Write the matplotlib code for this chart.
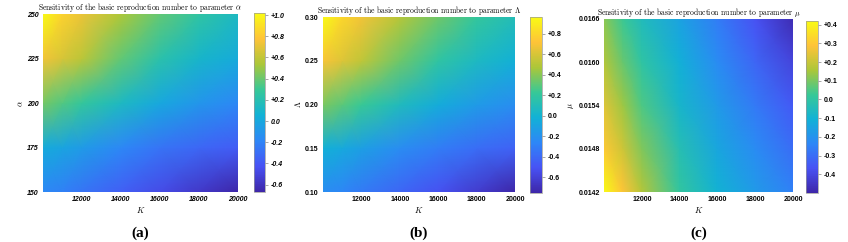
import numpy as np
import matplotlib
matplotlib.use("Agg")
import matplotlib.pyplot as plt
from matplotlib.colors import LinearSegmentedColormap
from matplotlib.ticker import FuncFormatter

plt.rcParams["mathtext.fontset"] = "cm"

# parula-like colormap (MATLAB default)
parula = LinearSegmentedColormap.from_list("parula", [
    (0.2422, 0.1504, 0.6603),
    (0.2810, 0.3228, 0.9579),
    (0.1786, 0.5289, 0.9682),
    (0.0689, 0.6948, 0.8394),
    (0.2161, 0.7843, 0.5923),
    (0.6720, 0.7793, 0.2227),
    (0.9970, 0.7659, 0.2199),
    (0.9769, 0.9839, 0.0805),
])

# carrying capacity K (shared x-axis)
K = [10000, 11000, 12000, 14000, 16000, 18000, 20000]

# panel (a): sensitivity to alpha
alpha = [150, 175, 200, 225, 250]
sens_alpha = [
    [-0.18, -0.22, -0.27, -0.37, -0.47, -0.57, -0.67],
    [0.02, -0.02, -0.07, -0.18, -0.27, -0.33, -0.38],
    [0.42, 0.35, 0.28, 0.13, 0.00, -0.10, -0.18],
    [0.74, 0.66, 0.58, 0.38, 0.22, 0.10, 0.02],
    [1.02, 0.84, 0.72, 0.54, 0.38, 0.25, 0.13],
]

# panel (b): sensitivity to Lambda
lam = [0.10, 0.15, 0.20, 0.25, 0.30]
sens_lam = [
    [-0.23, -0.27, -0.32, -0.42, -0.52, -0.63, -0.756],
    [-0.03, -0.07, -0.12, -0.23, -0.31, -0.38, -0.44],
    [0.37, 0.30, 0.23, 0.08, -0.05, -0.15, -0.22],
    [0.70, 0.62, 0.53, 0.34, 0.18, 0.06, -0.03],
    [0.963, 0.80, 0.68, 0.50, 0.34, 0.21, 0.10],
]

# panel (c): sensitivity to mu
mu = [0.0142, 0.0148, 0.0154, 0.0160, 0.0166]
sens_mu = [
    [0.42, 0.29, 0.17, 0.01, -0.10, -0.18, -0.25],
    [0.30, 0.21, 0.11, -0.03, -0.14, -0.22, -0.30],
    [0.24, 0.14, 0.05, -0.08, -0.18, -0.27, -0.35],
    [0.17, 0.08, 0.00, -0.11, -0.22, -0.32, -0.41],
    [0.12, 0.03, -0.05, -0.15, -0.26, -0.37, -0.48],
]

panels = [
    dict(y=alpha, z=sens_alpha, sym=r"$\alpha$", lim=(-0.67, 1.02),
         yticks=alpha, yfmt="{:.0f}", cticks=np.arange(-0.6, 1.01, 0.2),
         italic=True, label="(a)",
         ax=[0.0507, 0.2066, 0.230, 0.7355], cax=[0.2995, 0.2066, 0.013, 0.740]),
    dict(y=lam, z=sens_lam, sym=r"$\Lambda$", lim=(-0.756, 0.963),
         yticks=lam, yfmt="{:.2f}", cticks=np.arange(-0.6, 0.81, 0.2),
         italic=False, label="(b)",
         ax=[0.3809, 0.2066, 0.2264, 0.723], cax=[0.625, 0.2025, 0.014, 0.727]),
    dict(y=mu, z=sens_mu, sym=r"$\mu$", lim=(-0.50, 0.42),
         yticks=mu, yfmt="{:.4f}", cticks=np.arange(-0.4, 0.41, 0.1),
         italic=False, label="(c)",
         ax=[0.7123, 0.2066, 0.2229, 0.715], cax=[0.9505, 0.2025, 0.014, 0.711]),
]


def cfmt(v, pos):
    v = round(v, 1)
    if abs(v) < 1e-9:
        return "0.0"
    return f"{v:+.1f}"


fig = plt.figure(figsize=(8.48, 2.42), dpi=100)

for p in panels:
    ax = fig.add_axes(p["ax"])
    cax = fig.add_axes(p["cax"])
    X, Y = np.meshgrid(K, p["y"])
    m = ax.pcolormesh(X, Y, np.array(p["z"]), shading="gouraud", cmap=parula,
                      vmin=p["lim"][0], vmax=p["lim"][1], rasterized=True)
    ax.set_xlim(K[0], K[-1])
    ax.set_ylim(p["y"][0], p["y"][-1])
    for s in ax.spines.values():
        s.set_visible(False)

    style = "italic" if p["italic"] else "normal"
    tfont = dict(family="Liberation Sans", weight="bold", style=style, size=5)

    ax.set_xticks([12000, 14000, 16000, 18000, 20000])
    ax.set_xticklabels(["12000", "14000", "16000", "18000", "20000"], **tfont)
    ax.set_yticks(p["yticks"])
    ax.set_yticklabels([p["yfmt"].format(v) for v in p["yticks"]], **tfont)
    ax.tick_params(length=0, pad=3)

    ax.set_xlabel(r"$K$", fontsize=6, labelpad=1.5)
    ax.set_ylabel(p["sym"], fontsize=6, labelpad=1.5, rotation=90)
    ax.set_title("Sensitivity of the basic reproduction number to parameter " + p["sym"],
                 fontsize=5.5, family="cmr10", pad=2)

    cb = fig.colorbar(m, cax=cax)
    cb.outline.set_edgecolor("#999999")
    cb.outline.set_linewidth(0.5)
    cb.set_ticks(p["cticks"])
    cb.ax.yaxis.set_major_formatter(FuncFormatter(cfmt))
    cb.ax.tick_params(length=2, width=0.4, color="#666666", pad=2)
    for t in cb.ax.get_yticklabels():
        t.set_fontfamily("Liberation Sans")
        t.set_fontweight("bold")
        t.set_fontstyle(style)
        t.set_fontsize(5)

    cx = p["ax"][0] + p["ax"][2] / 2
    fig.text(cx, 0.037, p["label"], ha="center", va="center",
             family="Liberation Serif", weight="bold", fontsize=11)

fig.savefig("out.png", dpi=100)
